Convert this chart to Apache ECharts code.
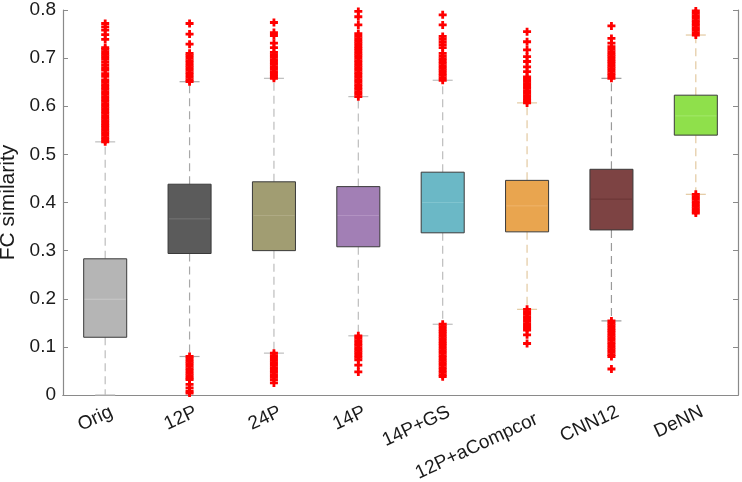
<!DOCTYPE html>
<html>
<head>
<meta charset="utf-8">
<script src="https://cdn.jsdelivr.net/npm/echarts@6/dist/echarts.min.js"></script>
<style>
html,body{margin:0;padding:0;background:#fff;}
#chart{width:742px;height:482px;}
</style>
</head>
<body>
<div id="chart"></div>
<script>
// ---- data ----
const categories = ['Orig','12P','24P','14P','14P+GS','12P+aCompcor','CNN12','DeNN'];
const lowerWhisker = [0.000, 0.080, 0.087, 0.123, 0.147, 0.178, 0.154, 0.417];
const q1           = [0.120, 0.294, 0.300, 0.308, 0.337, 0.339, 0.343, 0.540];
const median       = [0.199, 0.366, 0.373, 0.373, 0.400, 0.393, 0.407, 0.580];
const q3           = [0.283, 0.438, 0.443, 0.433, 0.463, 0.446, 0.469, 0.623];
const upperWhisker = [0.526, 0.651, 0.658, 0.620, 0.654, 0.607, 0.658, 0.748];
const yTicks = [0, 0.1, 0.2, 0.3, 0.4, 0.5, 0.6, 0.7, 0.8];

const outOrig = [0.526,0.530,0.535,0.540,0.545,0.550,0.555,0.560,0.565,0.570,0.575,0.580,0.585,0.590,0.595,0.600,0.605,0.610,0.615,0.620,0.625,0.630,0.635,0.640,0.645,0.650,0.655,0.662,0.668,0.675,0.680,0.686,0.692,0.698,0.703,0.708,0.713,0.718,0.722,0.739,0.749,0.758,0.765,0.772];
const out12P = [0.651,0.655,0.660,0.665,0.670,0.675,0.680,0.685,0.690,0.695,0.700,0.705,0.710,0.729,0.750,0.772,
  0.080,0.075,0.070,0.065,0.060,0.055,0.050,0.045,0.040,0.035,0.032,0.022,0.015,0.008,0.004];
const out24P = [0.658,0.662,0.667,0.672,0.677,0.682,0.687,0.692,0.697,0.702,0.707,0.712,0.722,0.731,0.747,0.753,0.774,
  0.087,0.082,0.077,0.072,0.067,0.062,0.057,0.052,0.047,0.042,0.037,0.032,0.025];
const out14P = [0.620,0.625,0.630,0.635,0.640,0.645,0.650,0.655,0.660,0.665,0.670,0.675,0.680,0.685,0.690,0.695,0.700,0.705,0.710,0.715,0.720,0.725,0.730,0.735,0.740,0.745,0.751,0.769,0.786,0.797,
  0.123,0.118,0.113,0.108,0.103,0.098,0.093,0.088,0.083,0.078,0.073,0.062,0.048];
const out14PGS = [0.654,0.659,0.664,0.669,0.674,0.679,0.684,0.689,0.694,0.699,0.704,0.710,0.722,0.728,0.734,0.740,0.745,0.769,0.790,
  0.147,0.142,0.137,0.132,0.127,0.122,0.117,0.112,0.107,0.102,0.097,0.092,0.087,0.082,0.077,0.072,0.067,0.062,0.057,0.052,0.047,0.042,0.038];
const out12PaC = [0.607,0.612,0.617,0.622,0.627,0.632,0.637,0.642,0.647,0.652,0.657,0.661,0.672,0.682,0.693,0.703,0.717,0.734,0.755,
  0.178,0.173,0.168,0.163,0.158,0.153,0.148,0.143,0.139,0.135,0.125,0.107];
const outCNN12 = [0.658,0.663,0.668,0.673,0.678,0.683,0.688,0.693,0.698,0.703,0.708,0.713,0.718,0.724,0.731,0.741,0.767,
  0.154,0.149,0.144,0.139,0.134,0.129,0.124,0.119,0.114,0.109,0.104,0.099,0.094,0.089,0.084,0.080,0.054];
const outDeNN = [0.748,0.753,0.758,0.763,0.768,0.773,0.778,0.783,0.788,0.793,0.798,
  0.417,0.412,0.407,0.402,0.397,0.392,0.387,0.382,0.378];
const outliers = [outOrig, out12P, out24P, out14P, out14PGS, out12PaC, outCNN12, outDeNN];

// ---- styles ----
const boxFill   = ['#b5b5b5','#5b5b5b','#a19d72','#a27fb5','#6bb8c6','#e9a54f','#7d4343','#8fe04b'];
const medColor  = ['#c9c9c9','#757575','#b0ab85','#b393c3','#80c4cf','#efb46b','#6a3333','#a3e86a'];
const whiskColor= ['#bdbdbd','#a8a8a8','#bdbdbd','#bdbdbd','#bdbdbd','#e3c9a1','#9a9a9a','#e3c9a1'];

const boxData = categories.map((c,i)=>[i, lowerWhisker[i], q1[i], median[i], q3[i], upperWhisker[i]]);
const scatterData = [];
outliers.forEach((arr,i)=>arr.forEach(v=>scatterData.push([i, v])));

function renderBox(params, api){
  const i = api.value(0);
  const w = api.size([1,0])[0]*0.51;
  const x = api.coord([i,0])[0];
  const pLw = api.coord([i, api.value(1)])[1];
  const pQ1 = api.coord([i, api.value(2)])[1];
  const pMd = api.coord([i, api.value(3)])[1];
  const pQ3 = api.coord([i, api.value(4)])[1];
  const pUw = api.coord([i, api.value(5)])[1];
  const wc = whiskColor[i];
  const dash = {stroke: wc, lineWidth: 1.2, lineDash: [8,5]};
  const cap = 20;
  return {
    type:'group',
    children:[
      {type:'line', shape:{x1:x,y1:pQ3,x2:x,y2:pUw}, style:dash},
      {type:'line', shape:{x1:x,y1:pQ1,x2:x,y2:pLw}, style:dash},
      {type:'line', shape:{x1:x-cap/2,y1:pUw,x2:x+cap/2,y2:pUw}, style:{stroke:wc,lineWidth:1.2}},
      {type:'line', shape:{x1:x-cap/2,y1:pLw,x2:x+cap/2,y2:pLw}, style:{stroke:wc,lineWidth:1.2}},
      {type:'rect', shape:{x:x-w/2,y:pQ3,width:w,height:pQ1-pQ3}, style:{fill:boxFill[i], stroke:'#3a3a3a', lineWidth:1}},
      {type:'line', shape:{x1:x-w/2+1,y1:pMd,x2:x+w/2-1,y2:pMd}, style:{stroke:medColor[i],lineWidth:1}}
    ]
  };
}

const axisGray = '#8a8a8a';
const font = 'Liberation Sans, Arial, sans-serif';
const chart = echarts.init(document.getElementById('chart'), null, {renderer:'canvas'});
chart.setOption({
  animation:false,
  backgroundColor:'#ffffff',
  grid:{left:63, right:4, top:10, bottom:87, containLabel:false, outerBoundsMode:'none'},
  xAxis:[{
    type:'category', data:categories, position:'bottom',
    axisLine:{lineStyle:{color:axisGray,width:1.2}},
    axisTick:{inside:true, alignWithLabel:true, length:5, lineStyle:{color:axisGray}},
    axisLabel:{rotate:25, margin:19, color:'#1a1a1a', fontSize:19, fontFamily:font, interval:0, padding:[0,-7,0,0],
      formatter:(v)=> v==='12P+aCompcor' ? '{low|'+v+'}' : v,
      rich:{low:{fontSize:19, fontFamily:font, color:'#1a1a1a', padding:[16,0,0,0]}}},
    splitLine:{show:false}
  },{
    type:'category', data:categories, position:'top',
    axisLine:{lineStyle:{color:axisGray,width:1.2}},
    axisTick:{inside:true, alignWithLabel:true, length:5, lineStyle:{color:axisGray}},
    axisLabel:{show:false}, splitLine:{show:false}
  }],
  yAxis:[{
    type:'value', min:0, max:0.8, interval:0.1, position:'left',
    name:'FC similarity', nameLocation:'middle', nameGap:41, nameRotate:90,
    nameTextStyle:{fontSize:21, color:'#1a1a1a', fontFamily:font},
    axisLine:{show:true, lineStyle:{color:axisGray,width:1.2}},
    axisTick:{show:true, inside:true, length:5, lineStyle:{color:axisGray}},
    axisLabel:{color:'#1a1a1a', fontSize:19, fontFamily:font, margin:7,
      formatter:(v)=>{const t=yTicks.find(k=>Math.abs(k-v)<1e-9); return t===undefined?'':String(t);}},
    splitLine:{show:false}
  },{
    type:'value', min:0, max:0.8, interval:0.1, position:'right',
    axisLine:{show:true, lineStyle:{color:axisGray,width:1.2}},
    axisTick:{show:true, inside:true, length:5, lineStyle:{color:axisGray}},
    axisLabel:{show:false}, splitLine:{show:false}
  }],
  series:[{
    type:'custom', xAxisIndex:0, yAxisIndex:0, data:boxData,
    renderItem:renderBox, z:2,
    encode:{x:0, y:[1,2,3,4,5]}
  },{
    type:'scatter', xAxisIndex:0, yAxisIndex:0, data:scatterData, z:3,
    symbol:'path://M2.6,0H5.4V2.6H8V5.4H5.4V8H2.6V5.4H0V2.6H2.6Z',
    symbolSize:8, itemStyle:{color:'#ff0000', opacity:1}, silent:true
  }]
});
</script>
</body>
</html>
